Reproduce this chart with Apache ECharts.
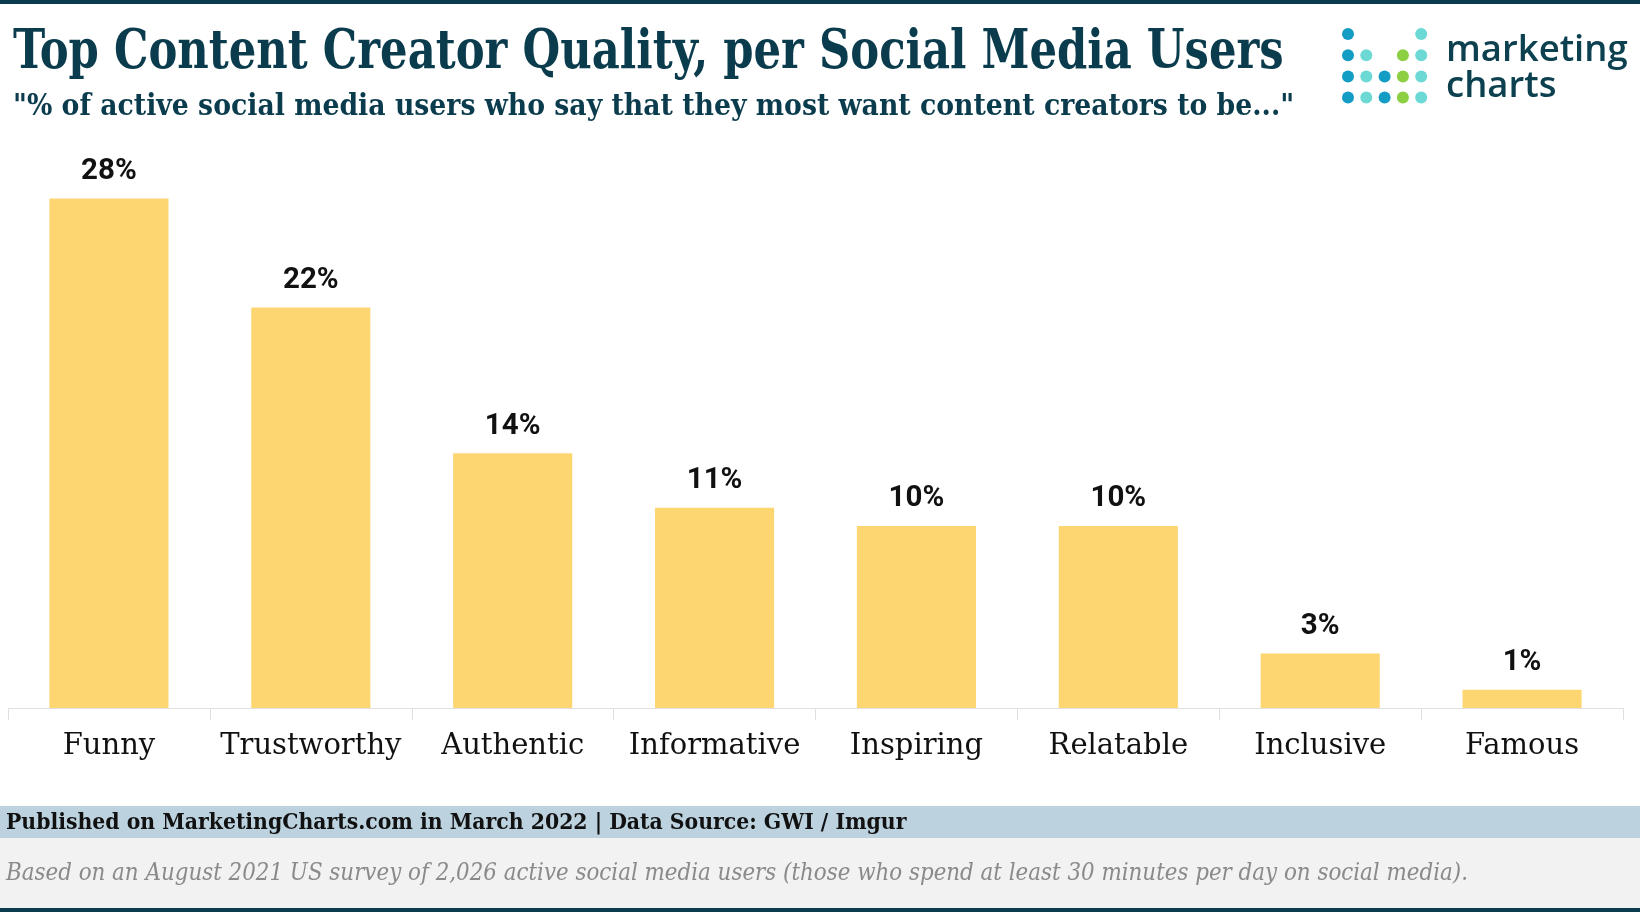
<!DOCTYPE html>
<html>
<head>
<meta charset="utf-8">
<script src="https://cdn.jsdelivr.net/npm/echarts@6/dist/echarts.min.js"></script>
<style>
  html, body { margin: 0; padding: 0; background: #fff; }
  #chart { width: 1640px; height: 912px; }
</style>
</head>
<body>
<div id="chart"></div>
<script>
const categories = ['Funny', 'Trustworthy', 'Authentic', 'Informative', 'Inspiring', 'Relatable', 'Inclusive', 'Famous'];
const shares = [28, 22, 14, 11, 10, 10, 3, 1];

const titleText = 'Top Content Creator Quality, per Social Media Users';
const subtitleText = '"% of active social media users who say that they most want content creators to be..."';
const sourceText = 'Published on MarketingCharts.com in March 2022 | Data Source: GWI / Imgur';
const noteText = 'Based on an August 2021 US survey of 2,026 active social media users (those who spend at least 30 minutes per day on social media).';

const dark = '#0b3c4d';
const slabNarrow = "'DejaVu Serif Condensed', 'DejaVu Serif', serif";
const slab = "'DejaVu Serif', serif";

// logo dot grid: [row, col, colour]
const blue = '#139cc4', cyan = '#6cd9d5', green = '#8ccf42';
const logoDots = [
  [0, 0, blue], [0, 4, cyan],
  [1, 0, blue], [1, 1, cyan], [1, 3, green], [1, 4, cyan],
  [2, 0, blue], [2, 1, cyan], [2, 2, blue], [2, 3, green], [2, 4, cyan],
  [3, 0, blue], [3, 1, cyan], [3, 2, blue], [3, 3, green], [3, 4, cyan]
];

const chart = echarts.init(document.getElementById('chart'));

const graphics = [
  { type: 'rect', shape: { x: 0, y: 0, width: 1640, height: 4 }, style: { fill: dark } },
  { type: 'rect', shape: { x: 0, y: 806, width: 1640, height: 32 }, style: { fill: '#bcd2df' } },
  { type: 'rect', shape: { x: 0, y: 838, width: 1640, height: 70 }, style: { fill: '#f2f2f2' } },
  { type: 'rect', shape: { x: 0, y: 908, width: 1640, height: 4 }, style: { fill: dark } },
  // title + subtitle, squeezed to the narrow slab face of the original
  {
    type: 'text', x: 13, y: 54, scaleX: 0.875,
    style: { text: titleText, fill: dark, font: "bold 55px " + slabNarrow, textVerticalAlign: 'middle' }
  },
  {
    type: 'text', x: 13, y: 107, scaleX: 0.99,
    style: { text: subtitleText, fill: dark, font: "bold 30px " + slabNarrow, textVerticalAlign: 'middle' }
  },
  {
    type: 'text', x: 6, y: 823,
    style: { text: sourceText, fill: '#111', font: "bold 22.7px " + slabNarrow, textVerticalAlign: 'middle' }
  },
  {
    type: 'text', x: 6, y: 874,
    style: { text: noteText, fill: '#8a8a8a', font: "italic 23.8px " + slabNarrow, textVerticalAlign: 'middle' }
  },
  {
    type: 'text', x: 1446, y: 51,
    style: { text: 'marketing', fill: '#0d4150', font: "600 36.5px 'Open Sans', sans-serif", textVerticalAlign: 'middle' }
  },
  {
    type: 'text', x: 1446, y: 87,
    style: { text: 'charts', fill: '#0d4150', font: "600 36.5px 'Open Sans', sans-serif", textVerticalAlign: 'middle' }
  }
];
logoDots.forEach(function (d) {
  graphics.push({
    type: 'circle',
    shape: { cx: 1348 + d[1] * 18.3, cy: 34 + d[0] * 21.2, r: 6 },
    style: { fill: d[2] }
  });
});

chart.setOption({
  animation: false,
  backgroundColor: '#fff',
  graphic: graphics,
  grid: { left: 8, right: 17, top: 162, bottom: 204, containLabel: false },
  xAxis: {
    type: 'category',
    data: categories,
    axisLine: { lineStyle: { color: '#e0e0e0', width: 1 } },
    axisTick: { show: true, interval: 0, length: 12, lineStyle: { color: '#e0e0e0' } },
    axisLabel: { interval: 0, color: '#111', fontFamily: slab, fontSize: 29, margin: 24 }
  },
  yAxis: {
    type: 'value', min: 0, max: 30, show: false,
    splitLine: { show: false }
  },
  series: [{
    type: 'bar',
    data: shares,
    barCategoryGap: '41%',
    itemStyle: { color: '#fdd672' },
    label: {
      show: true, position: 'top', distance: 12,
      formatter: '{c}%',
      color: '#111', fontFamily: 'Roboto', fontWeight: 'bold', fontSize: 29.5
    }
  }]
});
</script>
</body>
</html>
